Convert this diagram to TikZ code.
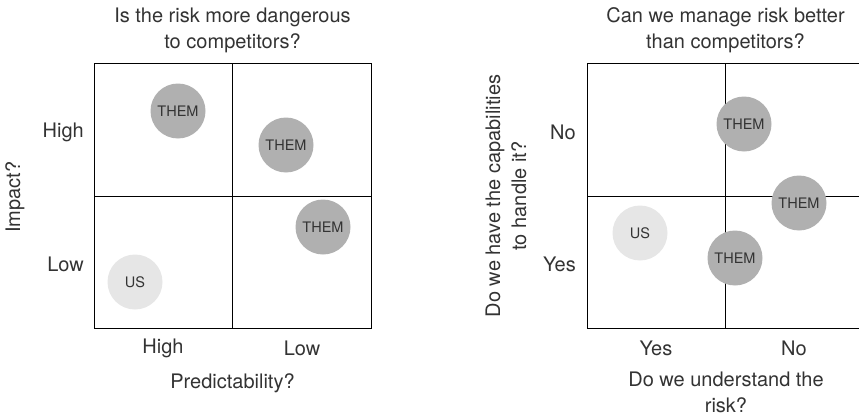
\documentclass[tikz,border=0pt]{standalone}
\usepackage{fontspec}
\setmainfont{TeX Gyre Heros}
\usepackage{xcolor}
\usepackage{tikz}
\usetikzlibrary{positioning}
\definecolor{ink}{HTML}{333333}
\definecolor{themgray}{HTML}{B0B0B0}
\definecolor{usgray}{HTML}{E6E6E6}

\begin{document}
\begin{tikzpicture}[
  x=1pt, y=-1pt,
  axistext/.style={text=ink, font=\fontsize{20}{26}\selectfont, align=center, inner sep=0pt},
  them/.style={circle, fill=themgray, minimum size=55pt, inner sep=0pt, text=ink, font=\fontsize{14.5}{14}\selectfont},
  us/.style={them, fill=usgray},
  quad/.style={draw=black, line width=1pt},
]
  \useasboundingbox (0,0) rectangle (859,420);

  % left matrix
  \draw[quad] (94,64) rectangle (371,328);
  \draw[quad] (232.5,64) -- (232.5,328) (94,196) -- (371,196);

  \node[axistext] (dangerTitle) at (232.5,30) {Is the risk more dangerous\\to competitors?};
  \node[axistext, anchor=east] (impactHigh) at (84,132) {High};
  \node[axistext, anchor=east] (impactLow) at (84,264) {Low};
  \node[axistext, rotate=90] (impact) at (15,197) {Impact?};
  \node[axistext] (predHigh) at (163,348) {High};
  \node[axistext] (predLow) at (302,348) {Low};
  \node[axistext] (pred) at (232.5,383) {Predictability?};

  \node[them] (dangerA) at (178,111) {THEM};
  \node[them] (dangerB) at (286,145) {THEM};
  \node[them] (dangerC) at (323,227) {THEM};
  \node[us] (dangerUs) at (135,282) {US};

  % right matrix
  \draw[quad] (587,64) rectangle (864,328);
  \draw[quad] (725.5,64) -- (725.5,328) (587,196) -- (864,196);

  \node[axistext] (manageTitle) at (725.5,30) {Can we manage risk better\\than competitors?};
  \node[axistext, anchor=east] (capNo) at (576,132) {No};
  \node[axistext, anchor=east] (capYes) at (576,264) {Yes};
  \node[axistext, rotate=90] (cap) at (506,196) {Do we have the capabilities\\to handle it?};
  \node[axistext] (undYes) at (656,348) {Yes};
  \node[axistext] (undNo) at (794,348) {No};
  \node[axistext] (und) at (726,392) {Do we understand the\\risk?};

  \node[them] (manageA) at (744,124) {THEM};
  \node[them] (manageB) at (799,203) {THEM};
  \node[us] (manageUs) at (640,233) {US};
  \node[them] (manageC) at (735,258) {THEM};
\end{tikzpicture}
\end{document}
